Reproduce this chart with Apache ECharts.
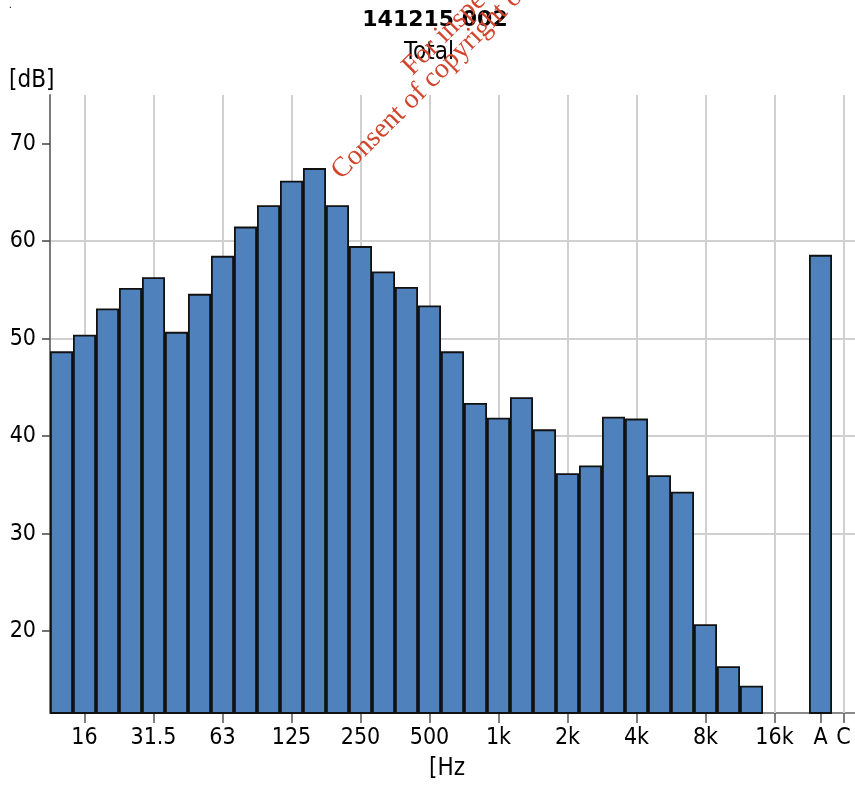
<!DOCTYPE html>
<html><head><meta charset="utf-8">
<script src="https://cdn.jsdelivr.net/npm/echarts@6/dist/echarts.min.js"></script>
<style>html,body{margin:0;padding:0;background:#fff}#c{width:855px;height:785px}</style>
</head><body><div id="c"></div>
<script>
const categories = ['12.5','16','20','25','31.5','40','50','63','80','100','125','160','200','250','315','400','500','630','800','1k','1.25k','1.6k','2k','2.5k','3.15k','4k','5k','6.3k','8k','10k','12.5k','16k','20k','A','C'];
const levels = [48.7,50.4,53.1,55.2,56.3,50.7,54.6,58.5,61.5,63.7,66.2,67.5,63.7,59.5,56.9,55.3,53.4,48.7,43.4,41.9,44.0,40.7,36.2,37.0,42.0,41.8,36.0,34.3,20.7,16.4,14.4,null,null,58.6,null];
const tickLabels = ['16','31.5','63','125','250','500','1k','2k','4k','8k','16k','A','C'];
const gridLabels = ['16','31.5','63','125','250','500','1k','2k','4k','8k','16k','C'];
const yTicks = [20,30,40,50,60,70];
const yMin = 11.6, yMax = 75;

const FONT = '"DejaVu Sans Condensed", "Noto Sans", sans-serif';
const chart = echarts.init(document.getElementById('c'), null, {renderer:'canvas'});
const showIdx = (i) => tickLabels.indexOf(categories[i]) >= 0;
chart.setOption({
  animation: false,
  backgroundColor: '#fff',
  grid: {left: 50, top: 95, width: 808.5, height: 618, containLabel: false},
  xAxis: {
    type: 'category', data: categories, boundaryGap: true,
    axisLine: {show: true, lineStyle: {color: '#8a8a8a', width: 2}},
    axisTick: {show: true, alignWithLabel: true, length: 10, interval: (i) => showIdx(i), lineStyle: {color: '#555', width: 1.5}},
    axisLabel: {show: true, interval: (i) => showIdx(i), margin: 14, color: '#000', fontSize: 23, fontFamily: FONT},
    splitLine: {show: false}
  },
  yAxis: {
    type: 'value', min: yMin, max: yMax,
    axisLine: {show: true, lineStyle: {color: '#7a7a7a', width: 2}},
    axisTick: {show: true, length: 8, customValues: yTicks, lineStyle: {color: '#444', width: 1.5}},
    axisLabel: {show: true, customValues: yTicks, margin: 14, color: '#000', fontSize: 23, fontFamily: FONT},
    splitLine: {show: true, showMinLine: false, showMaxLine: false, lineStyle: {color: '#d0d0d0', width: 2}}
  },
  series: [{
    type: 'bar', data: levels, barCategoryGap: '0%',
    itemStyle: {color: '#4f81bd', borderColor: '#111', borderWidth: 1.8},
    markLine: {
      z: 1, silent: true, symbol: ['none','none'], label: {show: false},
      lineStyle: {color: '#d0d0d0', width: 2, type: 'solid'},
      emphasis: {disabled: true},
      data: gridLabels.map(c => ({xAxis: c}))
    }
  }],
  graphic: [
    {type:'text', x: 435, y: 9, style:{text:'141215 002', font:'bold 22px "DejaVu Sans"', fill:'#000', align:'center', verticalAlign:'top'}},
    {type:'text', x: 429, y: 41, style:{text:'Total', font:'24px ' + FONT, fill:'#000', align:'center', verticalAlign:'top'}},
    {type:'text', x: 9, y: 69, style:{text:'[dB]', font:'24px ' + FONT, fill:'#000', align:'left', verticalAlign:'top'}},
    {type:'text', x: 429, y: 757, style:{text:'[Hz', font:'24px ' + FONT, fill:'#000', align:'left', verticalAlign:'top'}},
    {type:'text', x: 9, y: 0, style:{text:'.', font:'10px sans-serif', fill:'#000', align:'left', verticalAlign:'top'}},
    {type:'text', x: 346, y: 185, rotation: Math.PI/4, z: 100, style:{text:'Consent of copyright owner required for any other use.', font:'28px "Liberation Serif", serif', fill:'#d2452d', align:'left', verticalAlign:'bottom'}},
    {type:'text', x: 417, y: 81, rotation: Math.PI/4, z: 100, style:{text:'For inspection purposes only.', font:'28px "Liberation Serif", serif', fill:'#d2452d', align:'left', verticalAlign:'bottom'}}
  ]
});
</script></body></html>
